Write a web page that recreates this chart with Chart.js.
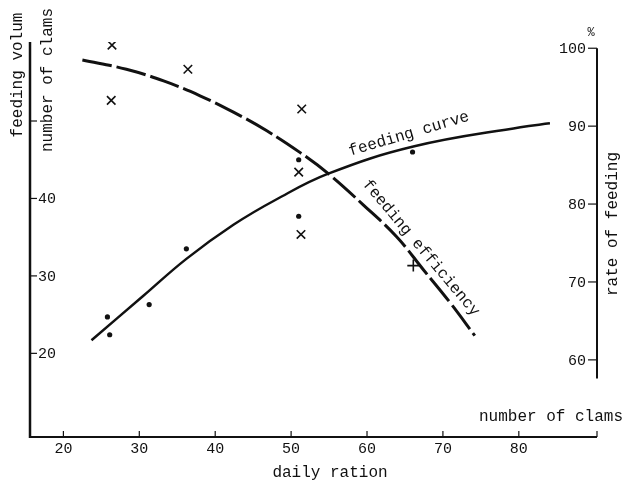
<!DOCTYPE html>
<html>
<head>
<meta charset="utf-8">
<script src="https://cdn.jsdelivr.net/npm/chart.js@4/dist/chart.umd.min.js"></script>
<style>
  body { margin: 0; background: #fff; }
  #wrap { width: 623px; height: 484px; }
</style>
</head>
<body>
<div id="wrap"><canvas id="myChart" width="623" height="484"></canvas></div>
<script>
// feeding curve (left axis, feeding volume)
var curveX = [23.7, 30.5, 36.2, 42.4, 48.1, 54.9, 66.1, 80.2, 84.1]
var curveY = [21.7, 27.4, 32.2, 36.6, 39.9, 43.2, 46.7, 49.2, 49.7]

// feeding efficiency (right axis, %)
var effX = [22.5, 28.3, 33.2, 38.0, 42.4, 46.8, 51.2, 54.9, 59.5, 63.9, 67.4, 70.9, 74.2]
var effY = [98.5, 97.3, 95.8, 93.9, 91.8, 89.4, 86.6, 83.9, 79.9, 75.8, 71.6, 67.4, 63.1]

// measured points
var dotX = [25.8, 26.1, 31.3, 36.2, 51.0, 51.0, 66.0]
var dotY = [24.7, 22.4, 26.3, 33.5, 37.7, 45.0, 46.0]
var crossX = [26.4, 26.3, 36.4, 51.4, 51.0, 51.3, 66.1]
var crossY = [100.4, 93.3, 97.3, 92.2, 84.1, 76.1, 72.1]

// ticks
var xTicks = [20, 30, 40, 50, 60, 70, 80]
var leftTicks = [20, 30, 40, 50]
var leftLabels = ['20', '30', '40', '']
var rightTicks = [60, 70, 80, 90, 100]

function pts(xs, ys){
    var out = []
    for (var i = 0; i < xs.length; i++) out.push({x: xs[i], y: ys[i]})
    return out
}

var FONT = '"Liberation Mono", "DejaVu Sans Mono", monospace'

var axesPlugin = {
    id: 'handAxes',
    beforeDraw: function(chart){
        var c = chart.ctx
        c.save()
        c.fillStyle = '#fff'
        c.fillRect(0, 0, chart.width, chart.height)
        c.restore()
    },
    afterDraw: function(chart){
        var c = chart.ctx
        var a = chart.chartArea
        var sx = chart.scales.x, sy = chart.scales.y, s2 = chart.scales.y2
        c.save()
        c.strokeStyle = '#111'
        c.fillStyle = '#111'
        c.lineCap = 'butt'

        // left axis
        c.lineWidth = 2.5
        c.beginPath(); c.moveTo(a.left, a.top); c.lineTo(a.left, a.bottom + 1); c.stroke()
        // bottom axis
        c.lineWidth = 2
        c.beginPath(); c.moveTo(a.left, a.bottom); c.lineTo(a.right, a.bottom); c.stroke()
        // right axis (partial)
        var rTop = s2.getPixelForValue(100), rBot = s2.getPixelForValue(57.6)
        c.beginPath(); c.moveTo(a.right, rTop); c.lineTo(a.right, rBot); c.stroke()

        c.lineWidth = 1.2
        c.font = '15px ' + FONT
        // x ticks
        c.textAlign = 'center'; c.textBaseline = 'middle'
        xTicks.forEach(function(v){
            var px = sx.getPixelForValue(v)
            c.beginPath(); c.moveTo(px, a.bottom); c.lineTo(px, a.bottom - 6); c.stroke()
            c.fillText(String(v), px, a.bottom + 12)
        })
        c.beginPath(); c.moveTo(a.right, a.bottom); c.lineTo(a.right, a.bottom - 6); c.stroke()

        // left ticks
        c.textAlign = 'left'
        leftTicks.forEach(function(v, i){
            var py = sy.getPixelForValue(v)
            c.beginPath(); c.moveTo(a.left, py); c.lineTo(a.left + 7, py); c.stroke()
            if (leftLabels[i]) c.fillText(leftLabels[i], a.left + 8, py + 1)
        })

        // right ticks
        c.textAlign = 'right'
        rightTicks.forEach(function(v){
            var py = s2.getPixelForValue(v)
            c.beginPath(); c.moveTo(a.right, py); c.lineTo(a.right - 9, py); c.stroke()
            c.fillText(String(v), a.right - 11, py + 1)
        })

        // axis titles
        c.font = '16px ' + FONT
        c.textAlign = 'center'
        function vtext(t, x, y){
            c.save(); c.translate(x, y); c.rotate(-Math.PI / 2); c.fillText(t, 0, 0); c.restore()
        }
        vtext('feeding volum', 18, 75)
        vtext('number of clams', 48, 80)
        vtext('rate of feeding', 613, 224)
        c.fillText('daily ration', 330, 473)
        c.fillText('number of clams', 551, 417)
        c.font = '12px ' + FONT
        c.fillText('%', 591, 33)

        // curve labels
        c.font = '16px ' + FONT
        c.save(); c.translate(409, 134); c.rotate(-16.5 * Math.PI / 180); c.fillText('feeding curve', 0, 0); c.restore()
        c.save(); c.translate(421, 248); c.rotate(50 * Math.PI / 180); c.fillText('feeding efficiency', 0, 0); c.restore()

        c.restore()
    }
}

var ctx = document.getElementById('myChart').getContext('2d')

var chart = new Chart(ctx, {
    type: 'scatter',
    data: {
        datasets: [
            {
                label: 'feeding curve',
                type: 'line',
                data: pts(curveX, curveY),
                yAxisID: 'y',
                borderColor: '#111',
                borderWidth: 2.5,
                pointRadius: 0,
                tension: 0.4,
                fill: false
            },
            {
                label: 'feeding efficiency',
                type: 'line',
                data: pts(effX, effY),
                yAxisID: 'y2',
                borderColor: '#111',
                borderWidth: 3,
                borderDash: [30, 5],
                pointRadius: 0,
                tension: 0.4,
                fill: false
            },
            {
                label: 'feeding volume',
                data: pts(dotX, dotY),
                yAxisID: 'y',
                pointStyle: 'circle',
                pointRadius: 2.6,
                backgroundColor: '#111',
                borderColor: '#111',
                borderWidth: 0
            },
            {
                label: 'rate of feeding',
                data: pts(crossX, crossY),
                yAxisID: 'y2',
                pointStyle: ['crossRot', 'crossRot', 'crossRot', 'crossRot', 'crossRot', 'crossRot', 'cross'],
                pointRadius: 6,
                borderColor: '#111',
                borderWidth: 1.6
            }
        ]
    },
    options: {
        responsive: false,
        animation: false,
        layout: { padding: { left: 30, right: 26, top: 42, bottom: 47 } },
        plugins: { legend: { display: false }, tooltip: { enabled: false } },
        scales: {
            x: { type: 'linear', min: 15.6, max: 90.3, display: false },
            y: { type: 'linear', min: 9.2, max: 60.2, display: false },
            y2: { type: 'linear', min: 50.1, max: 100.8, display: false, position: 'right' }
        }
    },
    plugins: [axesPlugin]
})
</script>
</body>
</html>
